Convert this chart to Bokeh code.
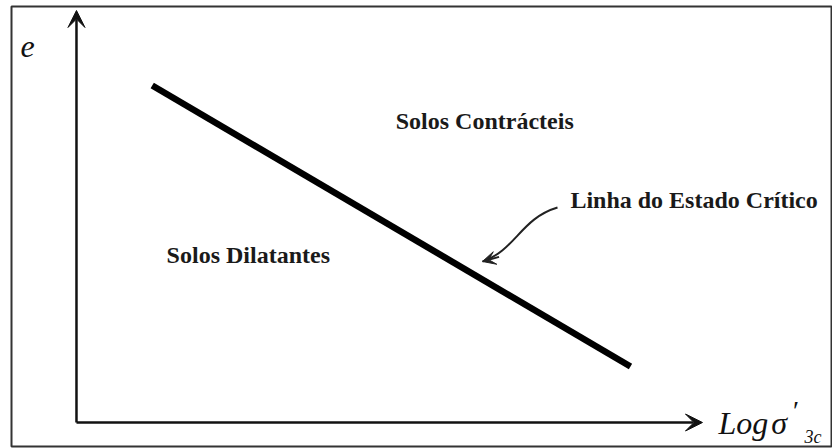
from bokeh.plotting import figure
from bokeh.models import Range1d, Arrow, VeeHead
from bokeh.core.properties import value
from bokeh.embed import file_html
from bokeh.resources import INLINE

# Critical state line in the e - log(sigma'_3c) plane (schematic units 0..10)
csl_log_sigma = [1.21, 8.85]
csl_void_ratio = [8.18, 1.36]

# Axis extents (schematic units)
axis_x_end = 10.0
axis_y_end = 10.0

# Region / line labels: text, left x, middle y
region_labels = ["Solos Contrácteis", "Solos Dilatantes", "Linha do Estado Crítico"]
region_label_x = [5.10, 1.44, 7.89]
region_label_y = [7.31, 4.06, 5.39]

# Callout pointing at the critical state line (cubic curve: start, controls, end)
callout_start = (7.684, 5.218)
callout_ctrl0 = (7.093, 4.951)
callout_ctrl1 = (7.013, 4.175)
callout_end = (6.486, 3.908)

SERIF = "Liberation Serif"
INK = "#111111"

p = figure(width=832, height=448, output_backend="svg", toolbar_location=None,
           x_axis_location=None, y_axis_location=None,
           x_range=Range1d(-1.038, 12.077), y_range=Range1d(-0.5825, 10.097))
p.min_border = 0
p.min_border_left = 11
p.min_border_top = 6
p.min_border_bottom = 2
p.min_border_right = 0
p.grid.visible = False
p.background_fill_color = "white"
p.border_fill_color = "white"
p.outline_line_color = "#333333"
p.outline_line_width = 2

# Axes as arrows from the origin
for xe, ye in [(axis_x_end, 0.0), (0.0, axis_y_end)]:
    p.add_layout(Arrow(x_start=0, y_start=0, x_end=xe, y_end=ye,
                       line_color=INK, line_width=2.5,
                       end=VeeHead(size=17, fill_color=INK, line_color=INK, line_width=1)))

# Critical state line
p.line(csl_log_sigma, csl_void_ratio, line_color="black", line_width=6.5, line_cap="butt")

# Labels
p.text(x=region_label_x, y=region_label_y, text=region_labels,
       text_font=value(SERIF), text_font_style="bold", text_font_size="24px",
       text_color="#1a1a1a", text_align="left", text_baseline="middle")

# Callout curve with a small arrowhead
p.bezier(x0=[callout_start[0]], y0=[callout_start[1]],
         x1=[callout_end[0]], y1=[callout_end[1]],
         cx0=[callout_ctrl0[0]], cy0=[callout_ctrl0[1]],
         cx1=[callout_ctrl1[0]], cy1=[callout_ctrl1[1]],
         line_color="#222222", line_width=2)
p.add_layout(Arrow(x_start=6.75, y_start=4.02, x_end=callout_end[0], y_end=callout_end[1],
                   line_color="#222222", line_width=2,
                   end=VeeHead(size=13, fill_color="#222222", line_color="#222222", line_width=1)))

# Axis titles
def label(x, y, s, size, style="italic"):
    p.text(x=[x], y=[y], text=[s], text_font=value(SERIF),
           text_font_style=style, text_font_size=size, text_color=INK,
           text_align="left", text_baseline="middle")

label(-0.895, 9.125, "e", "32px")
label(10.256, 0.0, "Log", "32px")
label(11.10, 0.0, "σ", "32px")
label(11.42, 0.30, "′", "28px")
label(11.63, -0.36, "3c", "18px")

open("out.html", "w").write(file_html(p, INLINE))
